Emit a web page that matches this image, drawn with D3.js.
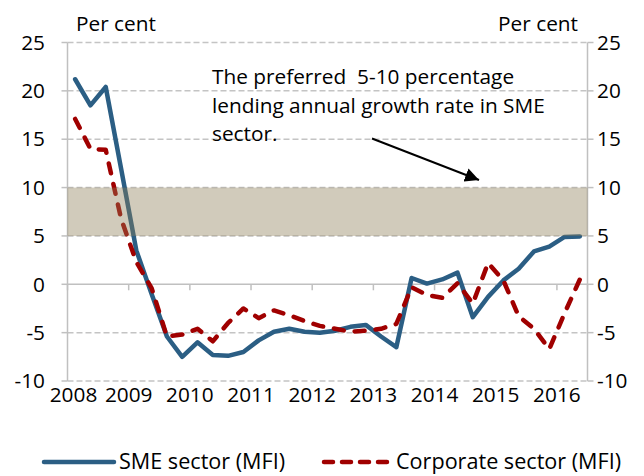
<!DOCTYPE html>
<html><head><meta charset="utf-8">
<script src="https://cdn.jsdelivr.net/npm/d3@7"></script>
<style>
body{margin:0;background:#fff;}
text{font-family:"Open Sans",Lato,sans-serif;fill:#000;white-space:pre;}
</style></head>
<body><svg id="c" width="644" height="476"></svg>
<script>
const categories = ["2008Q1","2008Q2","2008Q3","2008Q4","2009Q1","2009Q2","2009Q3","2009Q4",
"2010Q1","2010Q2","2010Q3","2010Q4","2011Q1","2011Q2","2011Q3","2011Q4",
"2012Q1","2012Q2","2012Q3","2012Q4","2013Q1","2013Q2","2013Q3","2013Q4",
"2014Q1","2014Q2","2014Q3","2014Q4","2015Q1","2015Q2","2015Q3","2015Q4",
"2016Q1","2016Q2"];
const sme = [21.2,18.5,20.4,12.0,3.5,-1.0,-5.4,-7.5,-6.0,-7.3,-7.4,-7.0,-5.8,-4.9,-4.6,-4.9,
-5.0,-4.8,-4.4,-4.2,-5.4,-6.5,0.65,0.07,0.5,1.2,-3.4,-1.3,0.4,1.6,3.4,3.9,4.9,4.95];
const corp = [17.1,14.0,13.9,6.8,2.3,-0.4,-5.4,-5.2,-4.6,-5.9,-4.0,-2.5,-3.5,-2.7,-3.2,-3.8,
-4.3,-4.6,-4.9,-4.8,-4.6,-4.1,-0.3,-1.1,-1.4,0.1,-2.0,2.2,0.4,-3.3,-4.6,-6.7,-3.0,0.5];
const yearLabels = ["2008","2009","2010","2011","2012","2013","2014","2015","2016"];
const yTicks = [25,20,15,10,5,0,-5,-10];
const band = [5,10];
const seriesNames = ["SME sector (MFI)","Corporate sector (MFI)"];
const annotation = ["The preferred  5-10 percentage","lending annual growth rate in SME","sector."];

const svg = d3.select("#c");
const L=67.5, R=587.5, T=42.5, B=381;
const x = d3.scaleLinear().domain([0,categories.length]).range([L,R]);
const y = d3.scaleLinear().domain([-10,25]).range([B,T]);
const xc = i => x(i+0.5);
const fs = 20.8, lfs = 21.6;

// gridlines
svg.append("g").selectAll("line").data(yTicks.filter(v=>v!==0)).join("line")
  .attr("x1",L).attr("x2",R).attr("y1",d=>y(d)).attr("y2",d=>y(d))
  .attr("stroke","#c4c4c4").attr("stroke-width",1.5).attr("stroke-dasharray","6,3");

// axes lines
const axc="#c0c0c0";
svg.append("line").attr("x1",L).attr("x2",L).attr("y1",T).attr("y2",B).attr("stroke",axc).attr("stroke-width",1.5);
svg.append("line").attr("x1",R).attr("x2",R).attr("y1",T).attr("y2",B).attr("stroke",axc).attr("stroke-width",1.5);
svg.append("line").attr("x1",L).attr("x2",R).attr("y1",y(0)).attr("y2",y(0)).attr("stroke",axc).attr("stroke-width",1.5);
svg.append("g").selectAll("line").data(yTicks).join("line")
  .attr("x1",L-6).attr("x2",L).attr("y1",d=>y(d)).attr("y2",d=>y(d)).attr("stroke",axc).attr("stroke-width",1.5);
svg.append("g").selectAll("line").data(yTicks).join("line")
  .attr("x1",R).attr("x2",R+6).attr("y1",d=>y(d)).attr("y2",d=>y(d)).attr("stroke",axc).attr("stroke-width",1.5);
const yearIdx = yearLabels.map((d,i)=>i*4);
svg.append("g").selectAll("line").data(yearIdx.concat([categories.length])).join("line")
  .attr("x1",d=>x(d)).attr("x2",d=>x(d)).attr("y1",y(0)).attr("y2",y(0)+6).attr("stroke",axc).attr("stroke-width",1.5);

// y labels
svg.append("g").selectAll("text").data(yTicks).join("text")
  .attr("x",45).attr("y",d=>y(d)).attr("dy","0.35em").attr("text-anchor","end")
  .attr("font-size",fs).text(d=>d);
svg.append("g").selectAll("text").data(yTicks).join("text")
  .attr("x",597).attr("y",d=>y(d)).attr("dy","0.35em").attr("text-anchor","start")
  .attr("font-size",fs).text(d=>d);
// x labels
svg.append("g").selectAll("text").data(yearLabels).join("text")
  .attr("x",(d,i)=>x(i*4)+(i===0?6:0)).attr("y",402).attr("text-anchor","middle")
  .attr("font-size",fs).text(d=>d);

svg.append("text").attr("x",76).attr("y",31).attr("font-size",fs).text("Per cent");
svg.append("text").attr("x",578).attr("y",31).attr("font-size",fs).attr("text-anchor","end").text("Per cent");

// lines
const line = d3.line().x((d,i)=>xc(i)).y(d=>y(d));
svg.append("path").datum(sme).attr("d",line).attr("fill","none")
  .attr("stroke","#2b5e84").attr("stroke-width",4.5).attr("stroke-linejoin","round").attr("stroke-linecap","round");
svg.append("path").datum(corp).attr("d",line).attr("fill","none")
  .attr("stroke","#a00000").attr("stroke-width",4.5).attr("stroke-linejoin","round").attr("stroke-linecap","round")
  .attr("stroke-dasharray","10,11");

// band on top (semi-transparent)
svg.append("rect").attr("x",L).attr("width",R-L).attr("y",y(band[1])).attr("height",y(band[0])-y(band[1]))
  .attr("fill","rgb(140,125,85)").attr("fill-opacity",0.4);

// annotation
svg.append("g").selectAll("text").data(annotation).join("text")
  .attr("x",212).attr("y",(d,i)=>84+i*28.5).attr("font-size",fs).text(d=>d);
svg.append("defs").append("marker").attr("id","ah").attr("viewBox","0 0 10 10").attr("refX",10).attr("refY",5)
  .attr("markerWidth",7).attr("markerHeight",7).attr("markerUnits","strokeWidth").attr("orient","auto")
  .append("path").attr("d","M0,0L10,5L0,10z").attr("fill","#000");
svg.append("line").attr("x1",372).attr("y1",138.5).attr("x2",479).attr("y2",180)
  .attr("stroke","#000").attr("stroke-width",2).attr("marker-end","url(#ah)");

// legend
const lg = svg.append("g");
lg.append("line").attr("x1",44).attr("x2",114).attr("y1",462).attr("y2",462)
  .attr("stroke","#2b5e84").attr("stroke-width",4.5).attr("stroke-linecap","round");
lg.append("text").attr("x",119).attr("y",469).attr("font-size",lfs).text(seriesNames[0]);
lg.append("line").attr("x1",324).attr("x2",390).attr("y1",462).attr("y2",462)
  .attr("stroke","#a00000").attr("stroke-width",4.5).attr("stroke-linecap","round").attr("stroke-dasharray","9,9");
lg.append("text").attr("x",396).attr("y",469).attr("font-size",lfs).text(seriesNames[1]);
</script></body></html>
